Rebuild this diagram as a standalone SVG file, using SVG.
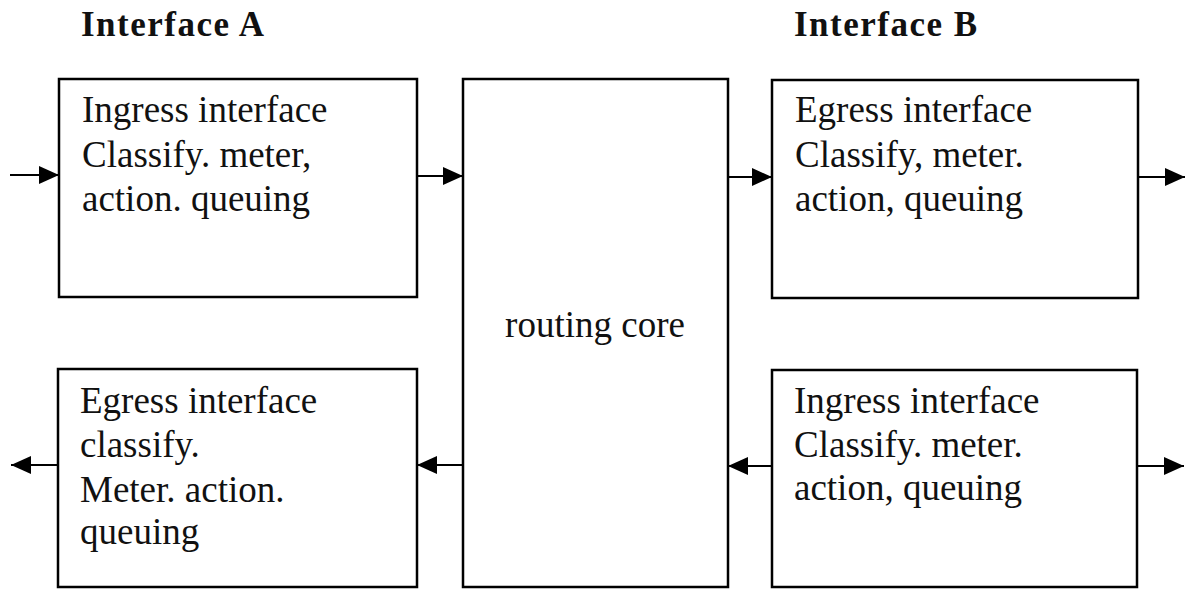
<svg xmlns="http://www.w3.org/2000/svg" width="1191" height="590" viewBox="0 0 1191 590">
<style>
.box{fill:#fff;stroke:#000;stroke-width:2.5}
.t{font-family:"Liberation Serif","Times New Roman",serif;font-size:37px;fill:#111}
.h{font-family:"Liberation Serif","Times New Roman",serif;font-size:35px;font-weight:bold;fill:#111;letter-spacing:1.5px}
.c{stroke:#000;stroke-width:2.2;fill:none;marker-end:url(#ah)}
</style>
<defs>
<marker id="ah" viewBox="0 0 20 18" refX="20" refY="9" markerWidth="20" markerHeight="18" markerUnits="userSpaceOnUse" orient="auto">
<path d="M0,0 L20,9 L0,18 Z" fill="#000"/>
</marker>
</defs>
<text class="h" x="81" y="36">Interface A</text>
<text class="h" x="794" y="36">Interface B</text>
<g id="ingressA">
<rect class="box" x="59" y="79" width="358" height="218"/>
<text class="t" x="82" y="122">Ingress interface</text>
<text class="t" x="82" y="167">Classify. meter,</text>
<text class="t" x="82" y="211">action. queuing</text>
</g>
<g id="core">
<rect class="box" x="463" y="79" width="265" height="508"/>
<text class="t" x="595" y="337" text-anchor="middle">routing core</text>
</g>
<g id="egressB">
<rect class="box" x="772" y="80" width="366" height="218"/>
<text class="t" x="795" y="122">Egress interface</text>
<text class="t" x="795" y="167">Classify, meter.</text>
<text class="t" x="795" y="211">action, queuing</text>
</g>
<g id="egressA">
<rect class="box" x="58" y="369" width="359" height="218"/>
<text class="t" x="80" y="413">Egress interface</text>
<text class="t" x="80" y="457">classify.</text>
<text class="t" x="80" y="502">Meter. action.</text>
<text class="t" x="80" y="544">queuing</text>
</g>
<g id="ingressB">
<rect class="box" x="772" y="370" width="365" height="217"/>
<text class="t" x="794" y="413">Ingress interface</text>
<text class="t" x="794" y="457">Classify. meter.</text>
<text class="t" x="794" y="500">action, queuing</text>
</g>
<g id="connectors">
<line class="c" x1="10" y1="175" x2="59" y2="175"/>
<line class="c" x1="417" y1="176" x2="463" y2="176"/>
<line class="c" x1="728" y1="177" x2="772" y2="177"/>
<line class="c" x1="1138" y1="177" x2="1185" y2="177"/>
<line class="c" x1="463" y1="465" x2="417" y2="465"/>
<line class="c" x1="58" y1="465" x2="11" y2="465"/>
<line class="c" x1="772" y1="466" x2="728" y2="466"/>
<line class="c" x1="1137" y1="466" x2="1184" y2="466"/>
</g>
</svg>
